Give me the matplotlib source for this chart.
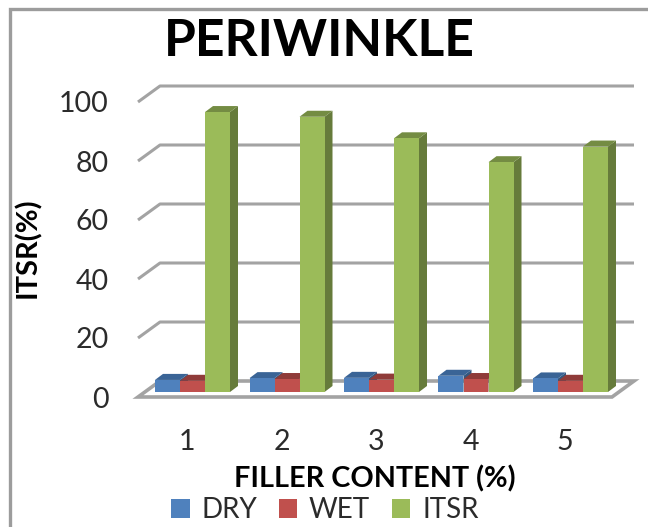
import matplotlib
matplotlib.use("Agg")
import matplotlib.pyplot as plt
from matplotlib.lines import Line2D
from matplotlib.patches import Patch, Polygon

categories = [1, 2, 3, 4, 5]
dry = [4.1, 4.7, 4.8, 5.5, 4.6]
wet = [3.8, 4.4, 4.2, 4.4, 3.8]
itsr = [94.9, 93.3, 86.0, 77.9, 83.2]
series_names = ["DRY", "WET", "ITSR"]
y_ticks = [0, 20, 40, 60, 80, 100]

W, H = 648, 527
# pixel scale of the plot
GROUP = 94.5
UNIT = 2.95
BAR_PX = 25
X0 = 192.5  # centre of first group
Y0 = 392


def px_x(n):
    return n / GROUP


def px_y(n):
    return n / UNIT


front = ["#4f81bd", "#c0504d", "#9bbb59"]
top = ["#3a6496", "#8f3b39", "#748c43"]
side = ["#34587f", "#7f3432", "#667b3b"]
grid_c = "#a3a3a3"

plt.rcParams["font.family"] = ["Lato", "DejaVu Sans"]
fig = plt.figure(figsize=(W / 100, H / 100), dpi=100)
left_px, right_px = 138, 612
# front wall edge sits 5 px below the bar base, back wall 11 px above it
fy, by = -px_y(5), px_y(11)
ax = fig.add_axes([left_px / W, (H - Y0 - 5) / H, (right_px - left_px) / W, 300 / H])
ax.set_xlim(1 + (left_px - X0) / GROUP, 1 + (right_px - X0) / GROUP)
ax.set_ylim(fy, 100)
for s in ax.spines.values():
    s.set_visible(False)
ax.patch.set_alpha(0)

xl = ax.get_xlim()
depth = px_x(22)
for v in y_ticks[1:]:
    ax.plot([xl[0], xl[0] + depth, xl[1] + depth], [v + fy, v + by, v + by],
            color=grid_c, lw=2.2, clip_on=False, zorder=1, solid_capstyle="butt")
# floor
ax.add_patch(Polygon([(xl[0], fy), (xl[1], fy), (xl[1] + depth, by), (xl[0] + depth, by)],
                     closed=True, facecolor="white", edgecolor=grid_c, lw=2.6,
                     clip_on=False, zorder=1, joinstyle="miter"))

w = BAR_PX / GROUP
dx, dy = px_x(8), px_y(6)
z = 2
for i, c in enumerate(categories):
    for j, vals in enumerate([dry, wet, itsr]):
        x = c + (j - 1) * w
        v = vals[i]
        l, r = x - w / 2, x + w / 2
        ax.add_patch(Polygon([(r, 0), (r + dx, dy), (r + dx, v + dy), (r, v)],
                             closed=True, fc=side[j], ec="none", zorder=z, clip_on=False))
        ax.add_patch(Polygon([(l, v), (r, v), (r + dx, v + dy), (l + dx, v + dy)],
                             closed=True, fc=top[j], ec="none", zorder=z, clip_on=False))
        ax.bar(x, v, width=w, color=front[j], zorder=z + 0.5)
        z += 1

ax.set_xticks([c - px_x(5.5) for c in categories], [str(c) for c in categories])
ax.set_yticks([v + fy for v in y_ticks], [str(v) for v in y_ticks])
ax.set_xlim(xl)
ax.set_ylim(fy, 100)
ax.tick_params(axis="both", length=0, labelsize=20.5, labelcolor="#2b2b2b")
ax.tick_params(axis="x", pad=23)
ax.tick_params(axis="y", pad=21)

fig.text(319 / W, 1 - 41 / H, "PERIWINKLE", fontsize=37.2, fontweight="bold",
         ha="center", va="center", color="black")
fig.text(375 / W, 1 - 479 / H, "FILLER CONTENT (%)", fontsize=20.7, fontweight="bold",
         ha="center", va="center", color="black")
fig.text(27.5 / W, 1 - 248 / H, "ITSR(%)", fontsize=21, fontweight="bold", rotation=90,
         ha="center", va="center", color="black")

handles = [Patch(facecolor=front[j], edgecolor="none", label=series_names[j]) for j in range(3)]
fig.legend(handles=handles, loc="center", bbox_to_anchor=(325 / W, 1 - 510 / H), ncol=3,
           frameon=False, fontsize=20, labelcolor="#2b2b2b", handlelength=0.65,
           handleheight=0.65, handletextpad=0.42, columnspacing=0.8, borderpad=0, borderaxespad=0)

# outer frame: only left and top show in the crop
fx, fy2 = 10 / W, 1 - 9 / H
fig.add_artist(Line2D([fx, fx, 1], [0, fy2, fy2], color="#9c9c9c", lw=2.4, solid_joinstyle="miter"))

fig.savefig("out.png", dpi=100)
